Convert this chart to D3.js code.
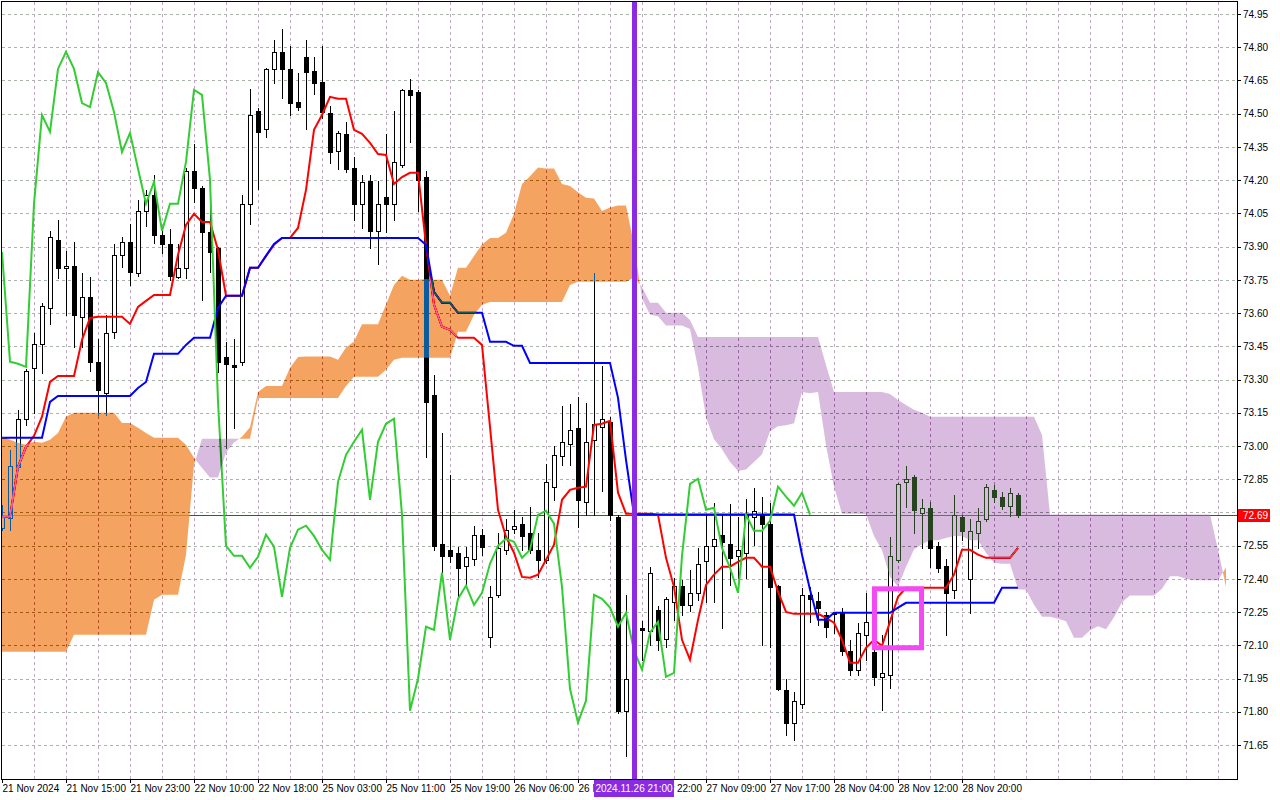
<!DOCTYPE html>
<html>
<head>
<meta charset="utf-8">
<script src="https://cdn.jsdelivr.net/npm/d3@7/dist/d3.min.js"></script>
<style>
  html, body { margin: 0; padding: 0; background: #fff; }
  svg { display: block; }
</style>
</head>
<body>
<svg width="1280" height="800"></svg>
<script>
// tick labels
const timeLabels = ["21 Nov 2024", "21 Nov 15:00", "21 Nov 23:00", "22 Nov 10:00", "22 Nov 18:00",
  "25 Nov 03:00", "25 Nov 11:00", "25 Nov 19:00", "26 Nov 06:00", "26 Nov 14:00", "26 Nov 22:00",
  "27 Nov 09:00", "27 Nov 17:00", "28 Nov 04:00", "28 Nov 12:00", "28 Nov 20:00"];
const labelBars = [0, 8, 16, 24, 32, 40, 48, 56, 64, 72, 80, 88, 96, 104, 112, 120];
const priceTicks = ["74.95", "74.80", "74.65", "74.50", "74.35", "74.20", "74.05", "73.90", "73.75",
  "73.60", "73.45", "73.30", "73.15", "73.00", "72.85", "72.70", "72.55", "72.40", "72.25", "72.10",
  "71.95", "71.80", "71.65"];

// hourly candles
const opens = [72.631,72.676,72.906,73.123,73.353,73.461,73.623,73.930,73.804,73.813,
  73.583,73.673,73.380,73.240,73.515,73.863,73.921,73.781,74.061,74.133,
  73.953,73.912,73.763,73.804,74.242,74.165,73.966,73.894,73.402,73.366,
  73.380,74.093,74.512,74.431,74.702,74.779,74.702,74.553,74.756,74.693,
  74.643,74.503,74.332,74.409,74.255,74.093,74.196,73.971,74.124,74.093,
  74.269,74.607,74.598,74.214,73.231,72.558,72.531,72.518,72.459,72.491,
  72.599,72.139,72.328,72.531,72.626,72.649,72.608,72.531,72.486,72.816,
  72.956,73.010,73.082,72.748,73.028,73.086,73.109,72.680,71.805,71.967,
  72.179,72.166,72.261,72.130,72.297,72.369,72.283,72.337,72.482,72.549,
  72.599,72.558,72.504,72.518,72.680,72.689,72.649,72.369,71.900,71.751,
  71.836,72.328,72.301,72.238,72.242,72.247,72.076,71.990,72.148,72.071,
  71.958,71.967,72.486,72.838,72.861,72.698,72.721,72.549,72.459,72.351,
  72.680,72.400,72.608,72.671,72.802,72.771,72.730,72.780];
const highs = [72.734,72.983,73.163,73.348,73.511,73.646,73.971,74.020,73.881,73.921,
  73.781,73.763,73.483,73.592,73.912,73.944,74.002,74.111,74.156,74.224,
  73.989,73.980,73.912,74.255,74.363,74.174,74.075,73.899,73.470,73.483,
  74.133,74.612,74.526,74.706,74.833,74.882,74.806,74.684,74.833,74.756,
  74.806,74.535,74.422,74.463,74.305,74.224,74.224,74.196,74.409,74.512,
  74.612,74.657,74.607,74.242,73.321,73.059,72.870,72.545,72.545,72.640,
  72.626,72.369,72.608,72.671,72.712,72.680,72.725,72.608,72.919,73.001,
  73.181,73.190,73.222,73.195,73.781,73.362,73.132,72.689,72.328,72.215,
  72.211,72.455,72.279,72.319,72.405,72.396,72.441,72.540,72.689,72.743,
  72.689,72.739,72.680,72.762,72.811,72.771,72.743,72.372,71.949,71.890,
  72.360,72.364,72.342,72.251,72.251,72.270,72.125,72.202,72.337,72.125,
  72.148,72.590,72.834,72.910,72.870,72.762,72.748,72.567,72.491,72.780,
  72.689,72.671,72.721,72.829,72.825,72.793,72.811,72.789];
const lows = [72.622,72.622,72.892,73.095,73.150,73.330,73.551,73.759,73.592,73.447,
  73.447,73.339,73.141,73.141,73.488,73.808,73.727,73.768,73.993,73.917,
  73.872,73.750,73.759,73.759,74.102,73.659,73.786,73.335,72.992,73.082,
  73.366,74.002,74.160,74.395,74.639,74.571,74.494,74.517,74.431,74.589,
  74.481,74.278,74.251,74.237,74.020,73.984,73.894,73.822,73.966,74.020,
  74.260,74.372,74.061,72.951,72.531,72.428,72.477,72.319,72.373,72.464,
  72.509,72.094,72.319,72.513,72.608,72.531,72.518,72.409,72.473,72.757,
  72.915,72.915,72.635,72.689,72.689,72.798,72.667,71.796,71.602,71.900,
  72.035,72.103,72.080,72.094,72.215,72.238,72.256,72.306,72.297,72.297,
  72.179,72.373,72.405,72.405,72.554,72.103,72.094,71.900,71.697,71.674,
  71.818,72.206,72.193,72.139,72.157,72.057,71.967,71.967,72.035,71.922,
  71.809,71.909,72.477,72.725,72.608,72.540,72.455,72.432,72.148,72.315,
  72.576,72.247,72.540,72.662,72.748,72.716,72.685,72.680];
const closes = [72.680,72.910,73.123,73.339,73.461,73.632,73.944,73.804,73.813,73.592,
  73.673,73.380,73.253,73.511,73.863,73.921,73.786,74.061,74.133,73.953,
  73.912,73.768,73.804,74.242,74.165,73.966,73.876,73.380,73.371,73.357,
  74.093,74.494,74.418,74.702,74.779,74.702,74.548,74.530,74.688,74.639,
  74.508,74.327,74.413,74.251,74.093,74.192,73.971,74.093,74.093,74.282,
  74.607,74.585,74.201,73.199,72.549,72.504,72.504,72.450,72.500,72.599,
  72.545,72.319,72.540,72.622,72.640,72.594,72.531,72.486,72.838,72.960,
  73.019,73.073,72.757,73.019,73.100,73.123,72.689,71.805,71.949,72.184,
  72.170,72.428,72.125,72.310,72.369,72.283,72.337,72.468,72.549,72.581,
  72.567,72.495,72.531,72.689,72.707,72.649,72.364,71.904,71.751,71.850,
  72.328,72.310,72.270,72.184,72.247,72.076,71.990,72.157,72.206,71.958,
  71.976,72.504,72.829,72.852,72.712,72.721,72.540,72.450,72.337,72.689,
  72.617,72.617,72.662,72.816,72.771,72.730,72.789,72.690];

// ichimoku lines
const tenkan = [72.680,72.680,72.906,72.996,73.046,73.132,73.289,73.316,73.316,73.316,
  73.479,73.578,73.583,73.583,73.583,73.583,73.551,73.628,73.655,73.682,
  73.682,73.682,73.863,73.998,74.048,74.011,74.011,73.885,73.678,73.678,
  73.678,73.804,73.804,73.858,73.908,73.939,73.939,73.984,74.156,74.427,
  74.494,74.576,74.567,74.567,74.427,74.409,74.368,74.318,74.314,74.183,
  74.214,74.233,74.233,73.908,73.637,73.538,73.524,73.488,73.488,73.488,
  73.456,73.086,72.712,72.590,72.518,72.409,72.405,72.419,72.486,72.554,
  72.757,72.802,72.811,72.816,73.095,73.100,73.113,72.789,72.694,72.694,
  72.694,72.694,72.689,72.495,72.364,72.125,72.035,72.215,72.373,72.419,
  72.455,72.455,72.477,72.495,72.495,72.455,72.455,72.342,72.251,72.242,
  72.242,72.242,72.242,72.224,72.202,72.125,72.021,72.021,72.089,72.125,
  72.098,72.206,72.319,72.360,72.360,72.360,72.360,72.360,72.360,72.419,
  72.531,72.531,72.509,72.495,72.495,72.495,72.495,72.540];
const kijun = [73.037,73.037,73.037,73.037,73.037,73.037,73.199,73.226,73.226,73.226,
  73.226,73.226,73.226,73.226,73.226,73.226,73.226,73.262,73.289,73.416,
  73.416,73.416,73.416,73.456,73.488,73.488,73.488,73.623,73.678,73.678,
  73.678,73.804,73.804,73.858,73.912,73.939,73.939,73.939,73.939,73.939,
  73.939,73.939,73.939,73.939,73.939,73.939,73.939,73.939,73.939,73.939,
  73.939,73.939,73.939,73.908,73.696,73.646,73.646,73.601,73.601,73.601,
  73.601,73.470,73.470,73.470,73.452,73.452,73.375,73.375,73.375,73.375,
  73.375,73.375,73.375,73.375,73.375,73.375,73.375,73.217,72.937,72.690,
  72.690,72.690,72.690,72.690,72.690,72.690,72.690,72.690,72.690,72.690,
  72.690,72.690,72.690,72.690,72.690,72.690,72.690,72.690,72.690,72.690,
  72.509,72.351,72.215,72.215,72.247,72.247,72.247,72.247,72.247,72.247,
  72.247,72.247,72.270,72.292,72.292,72.292,72.292,72.292,72.292,72.292,
  72.292,72.292,72.292,72.292,72.292,72.360,72.360,72.360];
// cloud spans, 26 bars ahead of the last candle
const spanA = [73.041,73.028,73.014,73.005,73.019,73.014,73.028,73.059,73.132,73.150,
  73.150,73.150,73.150,73.150,73.150,73.104,73.104,73.082,73.059,73.037,
  73.037,73.037,73.037,73.005,72.947,72.901,72.858,72.858,72.971,73.016,
  73.041,73.084,73.244,73.271,73.271,73.271,73.353,73.402,73.404,73.404,
  73.404,73.404,73.389,73.445,73.472,73.549,73.549,73.549,73.639,73.727,
  73.768,73.750,73.750,73.754,73.750,73.750,73.678,73.804,73.804,73.858,
  73.910,73.939,73.939,73.962,74.048,74.183,74.217,74.257,74.253,74.253,
  74.183,74.174,74.145,74.120,74.117,74.061,74.077,74.086,74.086,73.908,
  73.666,73.592,73.585,73.544,73.544,73.544,73.528,73.353,73.130,73.030,
  72.985,72.928,72.887,72.894,72.928,72.962,73.066,73.089,73.093,73.102,
  73.244,73.238,73.244,73.003,72.816,72.694,72.694,72.694,72.692,72.594,
  72.529,72.409,72.364,72.455,72.533,72.556,72.574,72.574,72.585,72.594,
  72.594,72.574,72.574,72.518,72.473,72.468,72.468,72.353,72.351,72.283,
  72.229,72.229,72.220,72.209,72.134,72.134,72.168,72.186,72.172,72.227,
  72.294,72.325,72.325,72.325,72.325,72.355,72.412,72.412,72.400,72.394,
  72.394,72.394,72.394,72.450];
const spanB = [72.071,72.071,72.071,72.071,72.071,72.071,72.071,72.071,72.071,72.148,
  72.148,72.148,72.148,72.148,72.148,72.148,72.148,72.148,72.148,72.306,
  72.328,72.328,72.328,72.509,72.915,73.032,73.032,73.032,73.032,73.032,
  73.032,73.032,73.217,73.217,73.217,73.217,73.217,73.217,73.217,73.217,
  73.217,73.217,73.217,73.271,73.312,73.312,73.312,73.312,73.344,73.389,
  73.398,73.398,73.398,73.398,73.398,73.398,73.398,73.515,73.515,73.592,
  73.637,73.650,73.650,73.650,73.650,73.650,73.650,73.650,73.650,73.650,
  73.650,73.727,73.741,73.741,73.741,73.741,73.741,73.741,73.741,73.759,
  73.718,73.646,73.646,73.601,73.601,73.601,73.569,73.492,73.492,73.492,
  73.492,73.492,73.492,73.492,73.492,73.492,73.492,73.492,73.492,73.492,
  73.492,73.492,73.492,73.366,73.244,73.244,73.244,73.244,73.244,73.244,
  73.244,73.235,73.208,73.185,73.163,73.150,73.132,73.132,73.132,73.132,
  73.132,73.132,73.132,73.132,73.132,73.132,73.132,73.132,73.132,73.132,
  73.050,72.690,72.690,72.690,72.690,72.690,72.690,72.690,72.690,72.690,
  72.690,72.690,72.690,72.690,72.690,72.690,72.690,72.690,72.690,72.690,
  72.690,72.690,72.531,72.364];
const chikouShift = 26;

// annotations
const lastPrice = 72.69;
const markerBar = 79;
const markerLabel = "2024.11.26 21:00";
const boxBars = [109.06, 114.94];
const boxPrices = [72.355, 72.089];

const svg = d3.select("svg");
const width = +svg.attr("width");
const height = +svg.attr("height");
const plotLeft = 2, plotRight = 1237, plotTop = 2, plotBottom = 779;
const fontFamily = "'Liberation Sans', Arial, sans-serif";

const x = d3.scaleLinear().domain([0, 154]).range([2, 1234]);
const y = d3.scaleLinear().domain([71.65, 74.95]).range([745, 14]);
const px = v => Math.round(v);

svg.append("rect").attr("width", width).attr("height", height).attr("fill", "#fff");

svg.append("clipPath").attr("id", "plotClip")
  .append("rect")
  .attr("x", plotLeft).attr("y", plotTop)
  .attr("width", plotRight - plotLeft).attr("height", plotBottom - plotTop);

const plot = svg.append("g").attr("clip-path", "url(#plotClip)");
// white backdrop inside the group so the cloud blend has something to invert
plot.append("rect")
  .attr("x", plotLeft).attr("y", plotTop)
  .attr("width", plotRight - plotLeft).attr("height", plotBottom - plotTop)
  .attr("fill", "#fff");

// grid
const grid = plot.append("g").attr("shape-rendering", "crispEdges");
grid.selectAll(".hgrid").data(priceTicks).join("line")
  .attr("class", "hgrid")
  .attr("x1", plotLeft).attr("x2", plotRight)
  .attr("y1", d => px(y(+d)) + 0.5).attr("y2", d => px(y(+d)) + 0.5)
  .attr("stroke", "#a9b5a9").attr("stroke-dasharray", "3,3");
grid.selectAll(".vgrid").data(d3.range(4, 154, 4)).join("line")
  .attr("class", "vgrid")
  .attr("x1", d => px(x(d)) + 0.5).attr("x2", d => px(x(d)) + 0.5)
  .attr("y1", plotTop).attr("y2", plotBottom)
  .attr("stroke", "#c2abc2").attr("stroke-dasharray", "3,3");

// bid line
plot.append("line")
  .attr("x1", plotLeft).attr("x2", plotRight)
  .attr("y1", px(y(lastPrice)) + 0.5).attr("y2", px(y(lastPrice)) + 0.5)
  .attr("stroke", "#ff0000").attr("stroke-width", 1)
  .attr("shape-rendering", "crispEdges");

// candles
const bars = opens.map((o, i) => ({ i, o, h: highs[i], l: lows[i], c: closes[i] }));
const candles = plot.append("g").attr("shape-rendering", "crispEdges");
candles.selectAll("line").data(bars).join("line")
  .attr("x1", d => px(x(d.i)) + 0.5).attr("x2", d => px(x(d.i)) + 0.5)
  .attr("y1", d => px(y(d.h))).attr("y2", d => px(y(d.l)) + 1)
  .attr("stroke", "#000");
candles.selectAll("rect").data(bars).join("rect")
  .attr("x", d => px(x(d.i)) - 1.5)
  .attr("y", d => px(y(Math.max(d.o, d.c))) + 0.5)
  .attr("width", 4)
  .attr("height", d => Math.max(1, px(y(Math.min(d.o, d.c))) - px(y(Math.max(d.o, d.c)))))
  .attr("fill", d => d.c >= d.o ? "#fff" : "#000")
  .attr("stroke", "#000");

// ichimoku lines
const line = d3.line().x(d => x(d[0])).y(d => y(d[1]));
plot.append("path")
  .datum(tenkan.map((v, i) => [i, v]))
  .attr("d", line).attr("fill", "none")
  .attr("stroke", "#ff0000").attr("stroke-width", 2);
plot.append("path")
  .datum(kijun.map((v, i) => [i, v]))
  .attr("d", line).attr("fill", "none")
  .attr("stroke", "#0000ff").attr("stroke-width", 2);
plot.append("path")
  .datum(closes.slice(chikouShift).map((v, i) => [i, v]))
  .attr("d", line).attr("fill", "none")
  .attr("stroke", "#32cd32").attr("stroke-width", 2);

// cloud, with crossing points added so both colours meet cleanly
const cloudPts = [];
spanA.forEach((a, i) => {
  cloudPts.push({ k: i, a: a, b: spanB[i] });
  if (i < spanA.length - 1) {
    const d0 = a - spanB[i];
    const d1 = spanA[i + 1] - spanB[i + 1];
    if (d0 * d1 < 0) {
      const t = d0 / (d0 - d1);
      const v = a + t * (spanA[i + 1] - a);
      cloudPts.push({ k: i + t, a: v, b: v });
    }
  }
});
const upArea = d3.area()
  .defined(d => d.a >= d.b)
  .x(d => x(d.k)).y0(d => y(d.b)).y1(d => y(d.a));
const downArea = d3.area()
  .defined(d => d.b >= d.a)
  .x(d => x(d.k)).y0(d => y(d.a)).y1(d => y(d.b));
// filled in the inverse colour with difference blending: sandybrown / lavender on white
plot.append("path").datum(cloudPts)
  .attr("d", upArea)
  .attr("fill", "#0b5b9f")
  .style("mix-blend-mode", "difference");
plot.append("path").datum(cloudPts)
  .attr("d", downArea)
  .attr("fill", "#274421")
  .style("mix-blend-mode", "difference");

// time marker
plot.append("line")
  .attr("x1", x(markerBar) + 0.5).attr("x2", x(markerBar) + 0.5)
  .attr("y1", plotTop).attr("y2", plotBottom)
  .attr("stroke", "#8a2be2").attr("stroke-width", 5);

// highlight box
plot.append("rect")
  .attr("x", x(boxBars[0])).attr("y", y(boxPrices[0]))
  .attr("width", x(boxBars[1]) - x(boxBars[0]))
  .attr("height", y(boxPrices[1]) - y(boxPrices[0]))
  .attr("fill", "none")
  .attr("stroke", "#f348f3").attr("stroke-width", 5);

// frame
svg.append("rect")
  .attr("x", plotLeft - 0.5).attr("y", plotTop - 0.5)
  .attr("width", plotRight - plotLeft + 1).attr("height", plotBottom - plotTop + 1)
  .attr("fill", "none").attr("stroke", "#000")
  .attr("shape-rendering", "crispEdges");

// price axis
const yAxis = d3.axisRight(y)
  .tickValues(priceTicks.map(Number))
  .tickFormat((d, i) => priceTicks[i])
  .tickSize(4).tickPadding(2);
const gy = svg.append("g")
  .attr("transform", `translate(${plotRight},0)`)
  .call(yAxis);
gy.select(".domain").remove();
gy.selectAll(".tick line").attr("stroke", "#000").attr("shape-rendering", "crispEdges");
gy.selectAll(".tick text")
  .attr("font-family", fontFamily).attr("font-size", 10).attr("fill", "#000");
gy.selectAll(".tick").filter(d => Math.abs(y(d) - y(lastPrice)) < 9).remove();

// time axis
const xAxis = d3.axisBottom(x)
  .tickValues(labelBars)
  .tickFormat((d, i) => timeLabels[i])
  .tickSize(4).tickPadding(2);
const gx = svg.append("g")
  .attr("transform", `translate(0,${plotBottom})`)
  .call(xAxis);
gx.select(".domain").remove();
gx.selectAll(".tick line").attr("stroke", "#000").attr("shape-rendering", "crispEdges");
gx.selectAll(".tick text")
  .attr("text-anchor", "start")
  .attr("font-family", fontFamily).attr("font-size", 10).attr("fill", "#000");

// last price tag
const yp = px(y(lastPrice));
svg.append("rect")
  .attr("x", plotRight + 1).attr("y", yp - 6)
  .attr("width", 32).attr("height", 13)
  .attr("fill", "#ff0000");
svg.append("text")
  .attr("x", plotRight + 6).attr("y", yp + 4)
  .attr("font-family", fontFamily).attr("font-size", 10).attr("fill", "#fff")
  .text(lastPrice.toFixed(2));

// marker tag on the time axis, drawn over the neighbouring labels as in the terminal
svg.append("rect")
  .attr("x", x(markerBar) - 40).attr("y", plotBottom + 1)
  .attr("width", 80).attr("height", 17)
  .attr("fill", "#8a2be2");
svg.append("text")
  .attr("x", x(markerBar)).attr("y", plotBottom + 13)
  .attr("text-anchor", "middle")
  .attr("font-family", fontFamily).attr("font-size", 10).attr("fill", "#fff")
  .text(markerLabel);
</script>
</body>
</html>
